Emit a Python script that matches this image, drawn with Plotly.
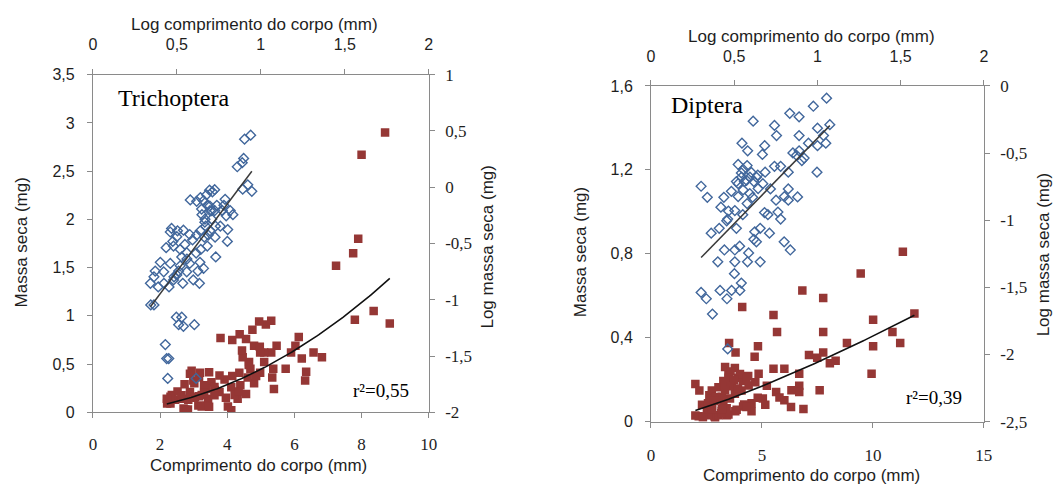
import numpy as np
import plotly.graph_objects as go

# ---------------- DATA ----------------
# Trichoptera: body length (mm) and dry mass (mg)
tri_len = [7.24, 7.75, 7.8, 8.36, 8.84, 8.7, 8.0, 7.9, 6.82, 6.57, 6.35, 6.32, 6.13, 6.03, 5.9, 5.74,
           5.47, 5.31, 5.15, 4.95, 5.31, 5.1, 4.98, 5.1, 5.37, 5.34, 5.39, 4.98, 4.8, 4.65, 4.37, 4.56,
           4.46, 4.69, 4.8, 4.61, 4.36, 4.39, 4.31, 4.56, 4.12, 4.02, 4.12, 3.92, 3.77, 3.8, 3.77, 3.53,
           3.38, 3.43, 3.38, 3.14, 3.19, 2.94, 2.99, 2.89, 2.73, 2.75, 2.65, 2.45, 2.35, 2.21, 3.24, 3.04,
           3.63, 4.22, 2.84,
           2.70, 2.83, 2.79, 3.24, 3.46, 2.31,
           4.15, 4.44, 4.97, 6.22, 4.86, 4.64, 4.15, 3.46, 2.89, 3.16, 3.02, 3.31, 3.62, 4.34, 3.31, 2.52,
           2.64, 3.16, 3.62, 3.96, 3.02, 2.31, 2.2, 4.75]
tri_mass = [1.52, 1.65, 0.96, 1.05, 0.92, 2.9, 2.67, 1.8, 0.57, 0.62, 0.42, 0.33, 0.78, 0.69, 0.62, 0.45,
            0.69, 0.95, 0.91, 0.94, 0.62, 0.62, 0.62, 0.52, 0.45, 0.36, 0.24, 0.41, 0.69, 0.52, 0.81, 0.76,
            0.57, 0.45, 0.3, 0.36, 0.41, 0.28, 0.14, 0.19, 0.02, 0.06, 0.26, 0.34, 0.38, 0.77, 0.21, 0.31,
            0.24, 0.14, 0.07, 0.07, 0.41, 0.43, 0.33, 0.21, 0.29, 0.03, 0.14, 0.13, 0.18, 0.09, 0.18, 0.16,
            0.23, 0.18, 0.13,
            0.04, 0.03, 0.02, 0.06, 0.058, 0.09,
            0.75, 0.64, 0.68, 0.557, 0.376, 0.489, 0.376, 0.415, 0.40, 0.363, 0.30, 0.28, 0.262, 0.215, 0.20, 0.215,
            0.177, 0.166, 0.177, 0.15, 0.15, 0.16, 0.14, 0.855]

# Diptera: body length (mm) and dry mass (mg)
dip_len = [11.35, 9.45, 6.82, 7.76, 4.11, 5.52, 10.01, 11.87, 5.68, 7.76, 10.88, 8.83, 10.01, 11.23, 3.52,
           4.82, 3.81, 4.67, 7.12, 7.49, 7.76, 8.06, 9.94, 7.6, 5.52, 6.01, 6.68, 6.68, 6.68, 4.85, 5.22,
           5.64, 5.79, 6.01, 6.31, 6.87, 5.04, 5.15, 4.53, 4.53, 4.15, 2.0, 2.18, 2.63, 2.0, 2.3, 2.86, 2.89,
           3.19, 3.49, 3.26, 3.49, 3.64, 3.78, 3.93, 4.15, 4.38, 4.08, 3.78, 3.56, 3.19, 2.89, 2.57, 3.26,
           3.41, 2.52, 3.86, 2.15, 2.74, 3.04,
           3.34, 3.58, 4.01, 3.5, 3.75, 3.34, 3.58, 3.92, 3.34, 4.4, 4.7, 4.3, 2.92, 4.81, 4.2, 2.85, 6.33, 8.32,
           2.6, 3.05, 3.42, 2.34, 3.17, 3.8, 2.76, 3.19, 4.3]
dip_mass = [0.81, 0.706, 0.625, 0.589, 0.546, 0.508, 0.485, 0.515, 0.427, 0.427, 0.427, 0.375, 0.359, 0.375, 0.375,
            0.359, 0.329, 0.309, 0.317, 0.304, 0.329, 0.278, 0.228, 0.149, 0.252, 0.252, 0.228, 0.171, 0.141, 0.228, 0.171,
            0.141, 0.115, 0.102, 0.069, 0.06, 0.11, 0.08, 0.087, 0.049, 0.072, 0.179, 0.148, 0.125, 0.029, 0.08, 0.026, 0.011,
            0.049, 0.034, 0.194, 0.225, 0.194, 0.255, 0.209, 0.194, 0.217, 0.148, 0.133, 0.11, 0.118, 0.102, 0.087, 0.087,
            0.064, 0.049, 0.057, 0.026, 0.148, 0.164,
            0.26, 0.239, 0.227, 0.209, 0.198, 0.187, 0.168, 0.158, 0.15, 0.172, 0.187, 0.209, 0.117, 0.114, 0.082, 0.099, 0.15, 0.29,
            0.03, 0.03, 0.03, 0.02, 0.04, 0.049, 0.06, 0.06, 0.069]

# Power-fit coefficients (log10 mass = intercept + slope * log10 length)
tri_fit_intercept, tri_fit_slope = -1.746, 1.995
dip_fit_intercept, dip_fit_slope = -1.661, 1.271

# Tick labels
tri_x_ticks = [0, 2, 4, 6, 8, 10]
tri_x_text = ["0", "2", "4", "6", "8", "10"]
log_len_ticks = [0, 0.5, 1, 1.5, 2]
log_len_text = ["0", "0,5", "1", "1,5", "2"]
tri_y_ticks = [0, 0.5, 1, 1.5, 2, 2.5, 3, 3.5]
tri_y_text = ["0", "0,5", "1", "1,5", "2", "2,5", "3", "3,5"]
tri_logy_ticks = [-2, -1.5, -1, -0.5, 0, 0.5, 1]
tri_logy_text = ["-2", "-1,5", "-1", "-0,5", "0", "0,5", "1"]
dip_x_ticks = [0, 5, 10, 15]
dip_x_text = ["0", "5", "10", "15"]
dip_y_ticks = [0, 0.4, 0.8, 1.2, 1.6]
dip_y_text = ["0", "0,4", "0,8", "1,2", "1,6"]
dip_logy_ticks = [-2.5, -2, -1.5, -1, -0.5, 0]
dip_logy_text = ["-2,5", "-2", "-1,5", "-1", "-0,5", "0"]

# ---------------- STYLE ----------------
W, H = 1063, 497
RED = "#953735"
BLUE = "#41679c"
AX = "#8a8a8a"
TXT = "#1e1e1e"
SANS = "Liberation Sans, Arial, sans-serif"
SERIF = "Liberation Serif, Times New Roman, serif"


def px(x, y):
    return x / W, 1 - y / H


fig = go.Figure()


def add_panel(lengths, masses, icpt, slope, xa, ya, xa2, ya2):
    L = np.array(lengths, float)
    M = np.array(masses, float)
    fig.add_trace(go.Scatter(x=L, y=M, mode="markers", xaxis=xa, yaxis=ya,
                             marker=dict(symbol="square", size=8.5, color=RED, line=dict(width=0)),
                             hoverinfo="skip"))
    xs = np.linspace(L.min(), L.max(), 120)
    fig.add_trace(go.Scatter(x=xs, y=10 ** (icpt + slope * np.log10(xs)), mode="lines",
                             xaxis=xa, yaxis=ya, line=dict(color="#111111", width=1.6),
                             hoverinfo="skip"))
    lx = np.log10(L)
    ly = np.log10(M)
    fig.add_trace(go.Scatter(x=lx, y=ly, mode="markers", xaxis=xa2, yaxis=ya2,
                             marker=dict(symbol="diamond-open", size=7.5, color=BLUE,
                                         line=dict(width=1.4, color=BLUE)),
                             hoverinfo="skip"))
    lxs = np.array([lx.min(), lx.max()])
    fig.add_trace(go.Scatter(x=lxs, y=icpt + slope * lxs, mode="lines", xaxis=xa2, yaxis=ya2,
                             line=dict(color="#3a3a3a", width=1.5), hoverinfo="skip"))


add_panel(tri_len, tri_mass, tri_fit_intercept, tri_fit_slope, "x", "y", "x2", "y2")
add_panel(dip_len, dip_mass, dip_fit_intercept, dip_fit_slope, "x3", "y3", "x4", "y4")

common = dict(showline=True, linecolor=AX, linewidth=1, ticks="outside", ticklen=5,
              tickcolor=AX, tickwidth=1, showgrid=False, zeroline=False, tickmode="array")
sans_font = dict(family=SANS, size=16, color=TXT)
serif_font = dict(family=SERIF, size=17, color=TXT)

d1x = [90 / W, 430 / W]
d1y = [1 - 419.3 / H, 1 - 68.3 / H]
d2x = [655 / W, 992 / W]
d2y = [1 - 429 / H, 1 - 80 / H]

fig.update_layout(
    width=W, height=H, margin=dict(l=0, r=0, t=0, b=0),
    paper_bgcolor="white", plot_bgcolor="white", showlegend=False,
    xaxis=dict(common, domain=d1x, anchor="y", range=[0, 10], tickvals=tri_x_ticks, ticktext=tri_x_text,
               tickfont=serif_font, ticklabelstandoff=11),
    xaxis2=dict(common, overlaying="x", side="top", anchor="y", range=[0, 2], tickvals=log_len_ticks,
                ticktext=log_len_text, tickfont=sans_font, ticklabelstandoff=12),
    yaxis=dict(common, domain=d1y, anchor="x", range=[0, 3.5], tickvals=tri_y_ticks, ticktext=tri_y_text,
               tickfont=sans_font, ticklabelstandoff=9),
    yaxis2=dict(common, overlaying="y", side="right", anchor="x", range=[-2, 1], tickvals=tri_logy_ticks,
                ticktext=tri_logy_text, tickfont=serif_font, ticklabelstandoff=7),
    xaxis3=dict(common, domain=d2x, anchor="y3", range=[0, 15], tickvals=dip_x_ticks, ticktext=dip_x_text,
                tickfont=serif_font, ticklabelstandoff=13),
    xaxis4=dict(common, overlaying="x3", side="top", anchor="y3", range=[0, 2], tickvals=log_len_ticks,
                ticktext=log_len_text, tickfont=sans_font, ticklabelstandoff=12),
    yaxis3=dict(common, domain=d2y, anchor="x3", range=[0, 1.6], tickvals=dip_y_ticks, ticktext=dip_y_text,
                tickfont=sans_font, ticklabelstandoff=9),
    yaxis4=dict(common, overlaying="y3", side="right", anchor="x3", range=[-2.5, 0], tickvals=dip_logy_ticks,
                ticktext=dip_logy_text, tickfont=serif_font, ticklabelstandoff=7),
)

title_font = dict(family=SANS, size=17, color=TXT)
annos = [
    ("Log comprimento do corpo (mm)", 254, 16, 0, title_font),
    ("Log comprimento do corpo (mm)", 817, 29, 0, title_font),
    ("Comprimento do corpo (mm)", 257.5, 475, 0, title_font),
    ("Comprimento do corpo (mm)", 817.5, 485, 0, title_font),
    ("Massa seca (mg)", 18, 243, -90, title_font),
    ("Log massa seca (mg)", 489, 248, -90, title_font),
    ("Massa seca (mg)", 583, 253, -90, title_font),
    ("Log massa seca (mg)", 1052, 256, -90, title_font),
]
for text, x, y, ang, f in annos:
    ax_, ay_ = px(x, y)
    fig.add_annotation(text=text, x=ax_, y=ay_, xref="paper", yref="paper", showarrow=False,
                       textangle=ang, xanchor="center", yanchor="middle", font=f)

label_font = dict(family=SERIF, size=24, color="black")
r2_font = dict(family=SERIF, size=19, color="black")
for text, x, y, xanc, f in [("Trichoptera", 113, 93, "left", label_font),
                            ("Diptera", 673, 100, "left", label_font),
                            ("r²=0,55", 412, 397, "right", r2_font),
                            ("r²=0,39", 972, 404, "right", r2_font)]:
    ax_, ay_ = px(x, y)
    fig.add_annotation(text=text, x=ax_, y=ay_, xref="paper", yref="paper", showarrow=False,
                       xanchor=xanc, yanchor="middle", font=f)

fig.write_html("out.html")
